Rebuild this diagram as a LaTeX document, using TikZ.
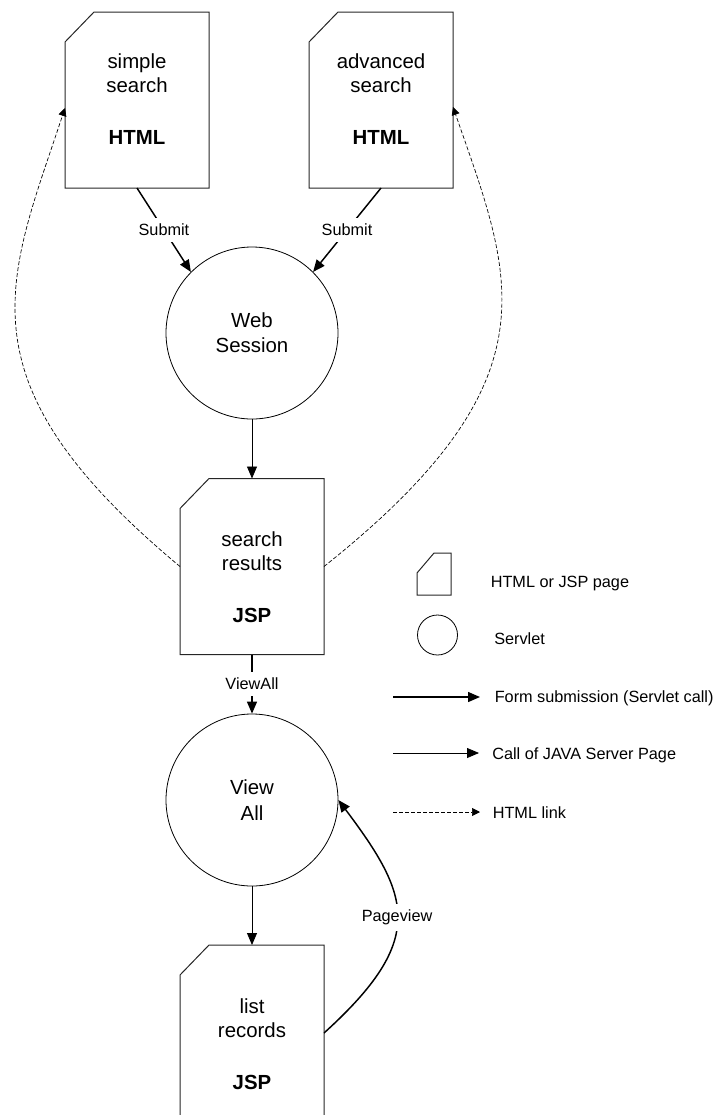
\documentclass[tikz,border=0pt]{standalone}
\usepackage{fontspec}
\setmainfont{Liberation Sans}
\usetikzlibrary{arrows.meta,calc}

\tikzset{
  docline/.style={draw=black!85, line width=0.75pt},
  doc/.style={rectangle, inner sep=0pt, outer sep=0pt, minimum width=108pt, minimum height=132pt},
  legdocshape/.style={rectangle, inner sep=0pt, outer sep=0pt, minimum width=25.5pt, minimum height=31.5pt},
  doctext/.style={align=center, inner sep=0pt, font=\fontsize{15.3}{18}\selectfont},
  servlet/.style={circle, draw, line width=0.6pt, minimum size=129pt, inner sep=0pt, align=center, font=\fontsize{15.3}{19}\selectfont},
  legservlet/.style={circle, draw, line width=0.6pt, minimum size=30pt, inner sep=0pt},
  formsub/.style={line width=1.1pt, -{Triangle[length=9pt,width=7.5pt]}},
  jspcall/.style={line width=0.6pt, -{Triangle[length=9pt,width=7.5pt]}},
  htmllink/.style={line width=0.5pt, dash pattern=on 3pt off 1.5pt, -{Triangle[length=6pt,width=6pt]}},
  lbl/.style={fill=white, inner xsep=2pt, inner ysep=4.5pt, font=\fontsize{12.2}{14}\selectfont},
  legtext/.style={anchor=base west, inner sep=0pt, font=\fontsize{12.2}{14}\selectfont},
}

\newcommand\docoutline[3]{\draw[docline] (#1.south west) -- ($(#1.north west)+(0,#3)$) -- ($(#1.north west)+(#2,0)$) -- (#1.north east) -- (#1.south east) -- cycle;}

\begin{document}
\begin{tikzpicture}[x=0.75pt, y=-0.75pt]
\useasboundingbox (0,0) rectangle (717,1115);

% documents and servlets
\node[doc] (simple) at (137,100) {};
\docoutline{simple}{29}{30}
\node[doctext] (simplet) at (137,99) {simple\\search\\[21pt]\textbf{HTML}};

\node[doc] (adv) at (381,100) {};
\docoutline{adv}{29}{30}
\node[doctext] (advt) at (381,99) {advanced\\search\\[21pt]\textbf{HTML}};

\node[servlet] (ws) at (252,333) {Web\\Session};

\node[doc] (sr) at (252,566.5) {};
\docoutline{sr}{29}{30}
\node[doctext] (srt) at (252,577.5) {search\\results\\[21pt]\textbf{JSP}};

\node[servlet] (va) at (252,800) {View\\All};

\node[doc] (lr) at (252,1033) {};
\docoutline{lr}{29}{30}
\node[doctext] (lrt) at (252,1044) {list\\records\\[21pt]\textbf{JSP}};

% connectors
\draw[formsub] (simple.south) -- node[lbl]{Submit} (ws.135);
\draw[formsub] (adv.south) -- node[lbl]{Submit} (ws.45);
\draw[jspcall] (ws.south) -- (sr.north);
\draw[formsub] (sr.south) -- node[lbl]{ViewAll} (va.north);
\draw[jspcall] (va.south) -- (lr.north);
\draw[formsub] (lr.east) .. controls +(103.6,-93.8) and +(72,96) .. node[lbl]{Pageview} (va.east);

\draw[htmllink] (sr.west) .. controls +(-225,-187) and +(-57,172) .. ($(simple.west)+(0,8)$);
\draw[htmllink] (sr.east) .. controls +(235,-187) and +(60,172) .. ($(adv.east)+(0,7)$);

% legend
\node[legdocshape] (ldoc) at (434,574) {};
\docoutline{ldoc}{17}{20}
\node[legtext] (ldoct) at (490.5,587) {HTML or JSP page};

\node[legservlet] (lsv) at (437.5,635) {};
\node[legtext] (lsvt) at (494,644.5) {Servlet};

\coordinate (f1) at (393,697);
\coordinate (f2) at (480,697);
\draw[formsub] (f1) -- (f2);
\node[legtext] (ft) at (494.5,702) {Form submission (Servlet call)};

\coordinate (j1) at (393,753);
\coordinate (j2) at (479,753);
\draw[jspcall] (j1) -- (j2);
\node[legtext] (jt) at (492,759) {Call of JAVA Server Page};

\coordinate (h1) at (393,812);
\coordinate (h2) at (480,812);
\draw[htmllink] (h1) -- (h2);
\node[legtext] (ht) at (492.5,818) {HTML link};
\end{tikzpicture}
\end{document}
